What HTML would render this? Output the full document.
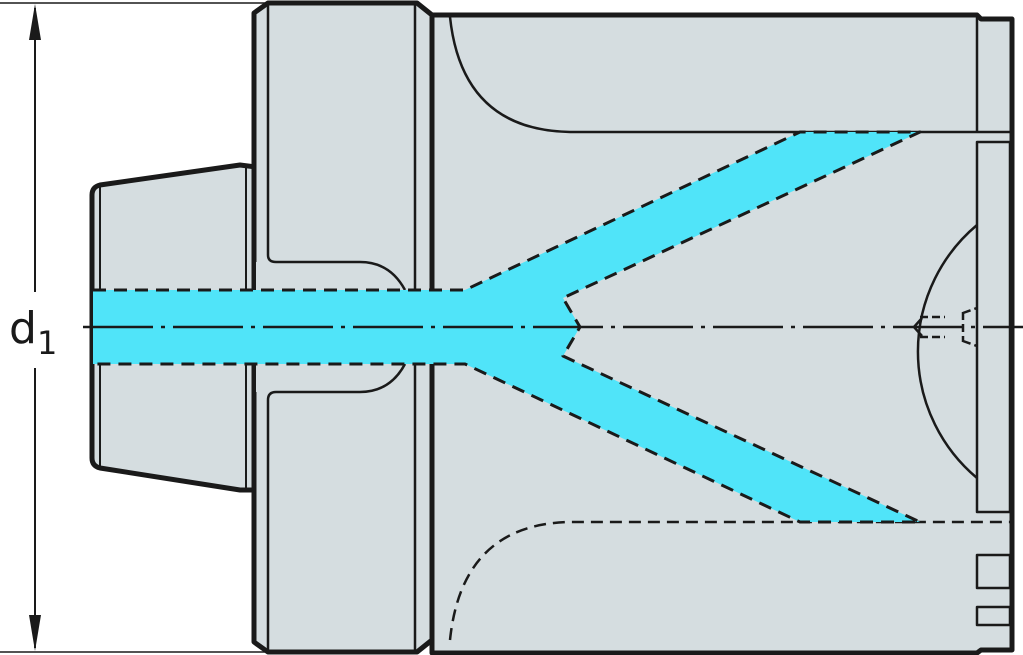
<!DOCTYPE html>
<html><head><style>html,body{margin:0;padding:0;background:#fff}svg{display:block}</style></head>
<body>
<svg width="1023" height="655" viewBox="0 0 1023 655" xmlns="http://www.w3.org/2000/svg">
<g stroke="#1a1a1a" fill="none" stroke-linejoin="round">
<line x1="0" y1="3" x2="268" y2="3" stroke-width="1.5"/>
<line x1="0" y1="652" x2="268" y2="652" stroke-width="1.5"/>
<line x1="35" y1="8" x2="35" y2="292" stroke-width="2"/>
<line x1="35" y1="368" x2="35" y2="648" stroke-width="2"/>
<polygon points="35,4 29,40 41,40" fill="#1a1a1a" stroke="none"/>
<polygon points="35,651 29,615 41,615" fill="#1a1a1a" stroke="none"/>
<path d="M432,15 L977,15 L981,19 L1012,19 L1012,650 L981,650 L977,653 L432,653 Z" fill="#d5dde0" stroke-width="5"/>
<path d="M100,185 L240,165 L256,167 L256,490 L240,490 L100,468 Q92,466 92,458 L92,195 Q92,187 100,185 Z" fill="#d5dde0" stroke-width="5"/>
<path d="M268,3 L417,3 L432,15 L432,640 L417,652 L268,652 L254,642 L254,13 Z" fill="#d5dde0" stroke-width="5"/>
<path d="M256,262 L360,262 Q390,262 405,290 L405,364 Q390,392 360,392 L256,392 Z" fill="#d5dde0" stroke="none"/>
<path d="M268,3 L268,255 Q268,262 276,262 L360,262 Q390,262 405,290" stroke-width="2.5"/>
<path d="M268,652 L268,400 Q268,392 276,392 L360,392 Q390,392 405,364" stroke-width="2.5"/>
<line x1="415" y1="3" x2="415" y2="652" stroke-width="2.5"/>
<line x1="432" y1="15" x2="432" y2="640" stroke-width="2.5"/>
<line x1="100" y1="186" x2="100" y2="467" stroke-width="2"/>
<line x1="246" y1="167" x2="246" y2="489" stroke-width="2"/>
<path d="M450,17 Q462,130 570,132 L1012,132" stroke-width="2.5"/>
<line x1="977" y1="17" x2="977" y2="132" stroke-width="2.5"/>
<path d="M450,640 Q462,524 570,522 L1012,522" stroke-width="2.5" stroke-dasharray="12,7"/>
<path d="M93,290 L465,290 L800,132 L920,132 L563,298 L580,327 L563,356 L920,522 L800,522 L465,364 L93,364 Z" fill="#50e4f9" stroke="none"/>
<path d="M93,290 L465,290 L800,132 L920,132 L563,298 L580,327 L563,356 L920,522 L800,522 L465,364 L93,364" stroke-width="3" stroke-dasharray="13,8"/>
<rect x="977" y="142" width="33" height="370" stroke-width="2.5"/>
<path d="M977,225 A165,165 0 0 0 977,478" stroke-width="2.5"/>
<path d="M920,317 L945,317 M920,337 L945,337 M963,312 L963,342 M963,313 L977,308 M963,341 L977,346" stroke-width="2.5" stroke-dasharray="8,4"/>
<path d="M922,318 L914,327 L922,336" stroke-width="2.5"/>
<rect x="977" y="555" width="33" height="33" stroke-width="2.5"/>
<rect x="977" y="607" width="33" height="18" stroke-width="2.5"/>
<line x1="83" y1="327" x2="1023" y2="327" stroke-width="2.5" stroke-dasharray="70,8,4,8"/>
</g>
<text x="9" y="343" font-family="DejaVu Sans, sans-serif" font-size="44" fill="#1a1a1a">d</text>
<text x="37" y="354" font-family="DejaVu Sans, sans-serif" font-size="32" fill="#1a1a1a">1</text>
</svg>
</body></html>
